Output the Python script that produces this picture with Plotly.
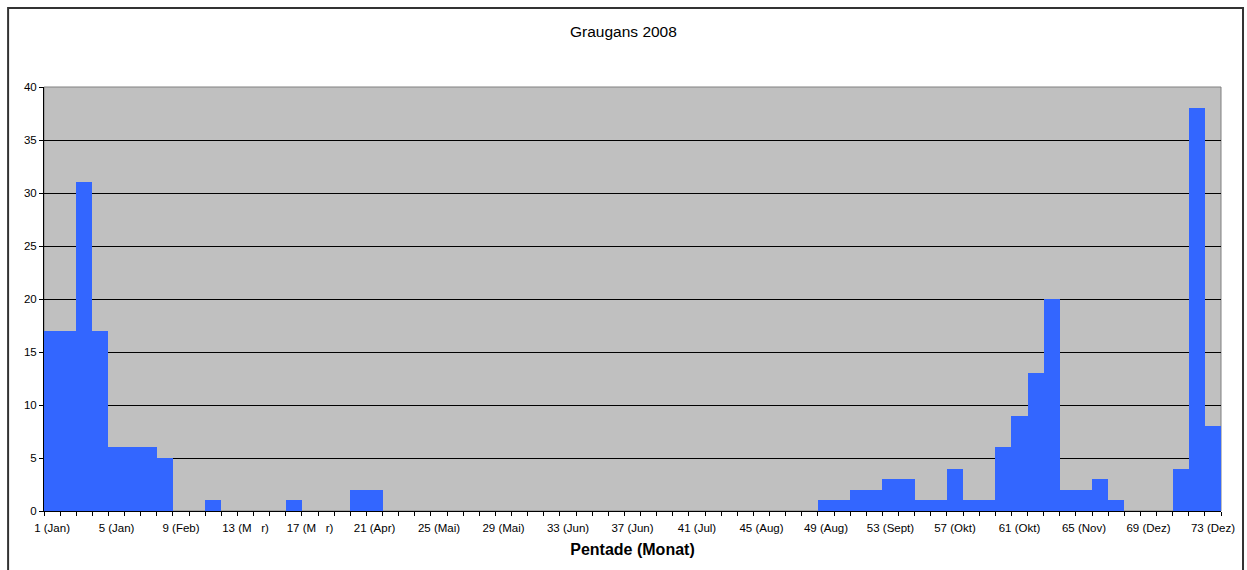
import plotly.graph_objects as go

pentades = list(range(1, 74))
counts = [17, 17, 31, 17, 6, 6, 6, 5, 0, 0,
          1, 0, 0, 0, 0, 1, 0, 0, 0, 2,
          2, 0, 0, 0, 0, 0, 0, 0, 0, 0,
          0, 0, 0, 0, 0, 0, 0, 0, 0, 0,
          0, 0, 0, 0, 0, 0, 0, 0, 1, 1,
          2, 2, 3, 3, 1, 1, 4, 1, 1, 6,
          9, 13, 20, 2, 2, 3, 1, 0, 0, 0,
          4, 38, 8]
tick_pos = [1, 5, 9, 13, 17, 21, 25, 29, 33, 37, 41, 45, 49, 53, 57, 61, 65, 69, 73]
tick_labels = ["1 (Jan)", "5 (Jan)", "9 (Feb)", "13 (M\u00a0\u00a0\u00a0r)", "17 (M\u00a0\u00a0\u00a0r)",
               "21 (Apr)", "25 (Mai)", "29 (Mai)", "33 (Jun)", "37 (Jun)", "41 (Jul)",
               "45 (Aug)", "49 (Aug)", "53 (Sept)", "57 (Okt)", "61 (Okt)", "65 (Nov)",
               "69 (Dez)", "73 (Dez)"]

FONT = "Liberation Sans, Arial, sans-serif"

fig = go.Figure()
fig.add_trace(go.Bar(x=pentades, y=counts, width=1,
                     marker=dict(color="#3366FF", line=dict(width=0))))

fig.update_layout(
    width=1247, height=570,
    margin=dict(l=44, r=24, t=87, b=59),
    paper_bgcolor="white", plot_bgcolor="#C0C0C0",
    bargap=0, showlegend=False,
    font=dict(family=FONT, size=11.5, color="black"),
)
fig.update_xaxes(
    range=[0.5, 73.5], tickmode="array", tickvals=tick_pos, ticktext=tick_labels,
    ticks="outside", ticklen=6, tickcolor="rgba(0,0,0,0)",
    showgrid=False, zeroline=False,
    showline=True, linecolor="black", linewidth=1,
    tickfont=dict(size=11.5),
    minor=dict(tickmode="linear", tick0=0.5, dtick=1, ticks="outside",
               ticklen=4, tickcolor="black", tickwidth=1, showgrid=False),
    title=dict(text="<b>Pentade (Monat)</b>", font=dict(size=16), standoff=11),
)
fig.update_yaxes(
    range=[0, 40], dtick=5, tick0=0, showgrid=True, gridcolor="black", gridwidth=1,
    zeroline=False, showline=True, linecolor="black", linewidth=1,
    ticks="outside", ticklen=4, tickcolor="black", tickfont=dict(size=11.5),
)
# plot area border (gray)
fig.add_shape(type="rect", xref="paper", yref="paper", x0=0, x1=1, y0=0, y1=1,
              line=dict(color="#808080", width=1), layer="below")
# outer chart frame
fig.add_shape(type="rect", xref="paper", yref="paper", x0=-0.0305, x1=1.0187,
              y0=-0.3, y1=1.1863, line=dict(color="#333333", width=2))
fig.add_annotation(text="Graugans 2008", xref="paper", yref="paper",
                   x=0.4924, y=1.13, showarrow=False, font=dict(size=15.5),
                   xanchor="center", yanchor="middle")

fig.write_html("out.html", config={"displayModeBar": False},
               post_script="document.body.style.margin='0';document.body.style.overflow='hidden';")
